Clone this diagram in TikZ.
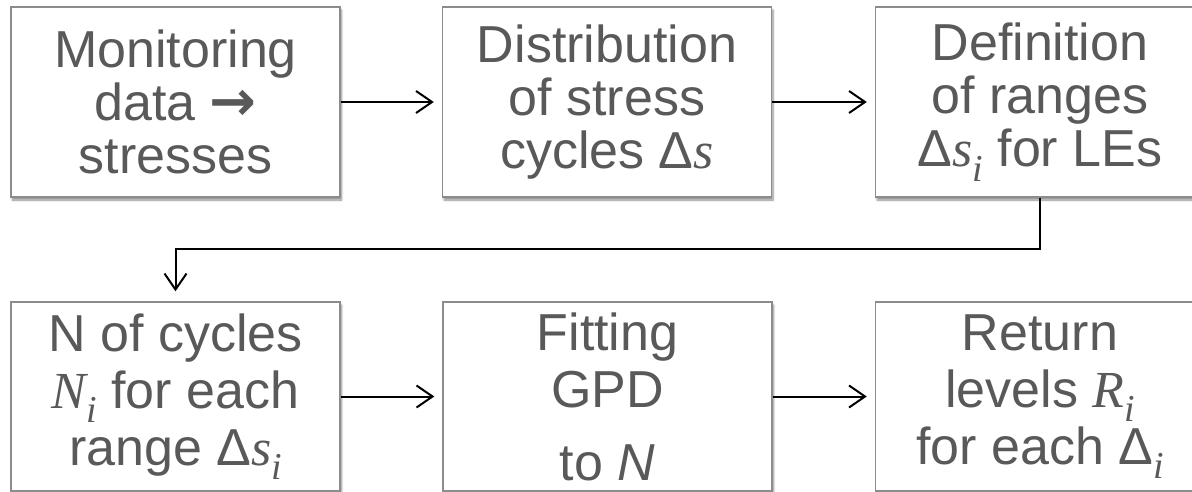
\documentclass[tikz,border=0pt]{standalone}
\usepackage{fontspec}
\setmainfont{Liberation Sans}
\newfontfamily\arrowfont{DejaVu Sans}
\newfontfamily\varfont{Liberation Serif}
\usetikzlibrary{
	arrows.meta,
	positioning,
	shadows.blur
}
\definecolor{boxtext}{HTML}{595959}
\definecolor{boxline}{HTML}{8C8C8C}
\newcommand{\vr}[1]{{\varfont\itshape #1}}
\newcommand{\sbi}[1]{\raisebox{-0.28em}{\fontsize{38}{38}\selectfont\varfont\itshape #1}}

\begin{document}
\begin{tikzpicture}[
	x=1pt, y=-1pt,
	stage/.style={
		rectangle,
		draw=boxline,
		fill=white,
		line width=1.4pt,
		align=center,
		minimum width=329pt,
		minimum height=190pt,
		inner sep=0pt,
		text=boxtext,
		font=\fontsize{52}{53}\selectfont,
		blur shadow={shadow xshift=1.5pt, shadow yshift=-3pt, shadow blur steps=6, shadow opacity=45}
	},
	lowstage/.style={stage, minimum height=189pt, font=\fontsize{52}{57}\selectfont},
	edge/.style={-{Straight Barb[length=16pt, width=22pt, line width=2pt]}, line width=2pt, draw=black, shorten >=8pt}
]
\useasboundingbox (0,0) rectangle (1192,492);

% Erste Reihe
\node[stage] (monit) at (175.5,102) {Monitoring\\data {\arrowfont\bfseries\fontsize{56}{53}\selectfont →}\\stresses};
\node[stage] (distr) at (607,102) {Distribution\\of stress\\cycles Δ\vr{s}};
\node[stage] (defin) at (1040,102) {Definition\\of ranges\\Δ\vr{s}\sbi{i} for LEs};

% Zweite Reihe
\node[lowstage] (ncyc) at (175.5,396.5) {N of cycles\\\vr{N}\sbi{i} for each\\range Δ\vr{s}\sbi{i}};
\node[lowstage] (fitgpd) at (607.5,396.5) {Fitting\\GPD\\[16pt]to \textit{N}};
\node[lowstage] (retlev) at (1040,396.5) {Return\\levels \vr{R}\sbi{i}\\for each Δ\sbi{i}};

\draw[edge] (monit) -- (distr);
\draw[edge] (distr) -- (defin);
\draw[edge, shorten >=10pt] (defin.south) -- ++(0,51) -| (ncyc.north);
\draw[edge] (ncyc) -- (fitgpd);
\draw[edge] (fitgpd) -- (retlev);
\end{tikzpicture}
\end{document}
